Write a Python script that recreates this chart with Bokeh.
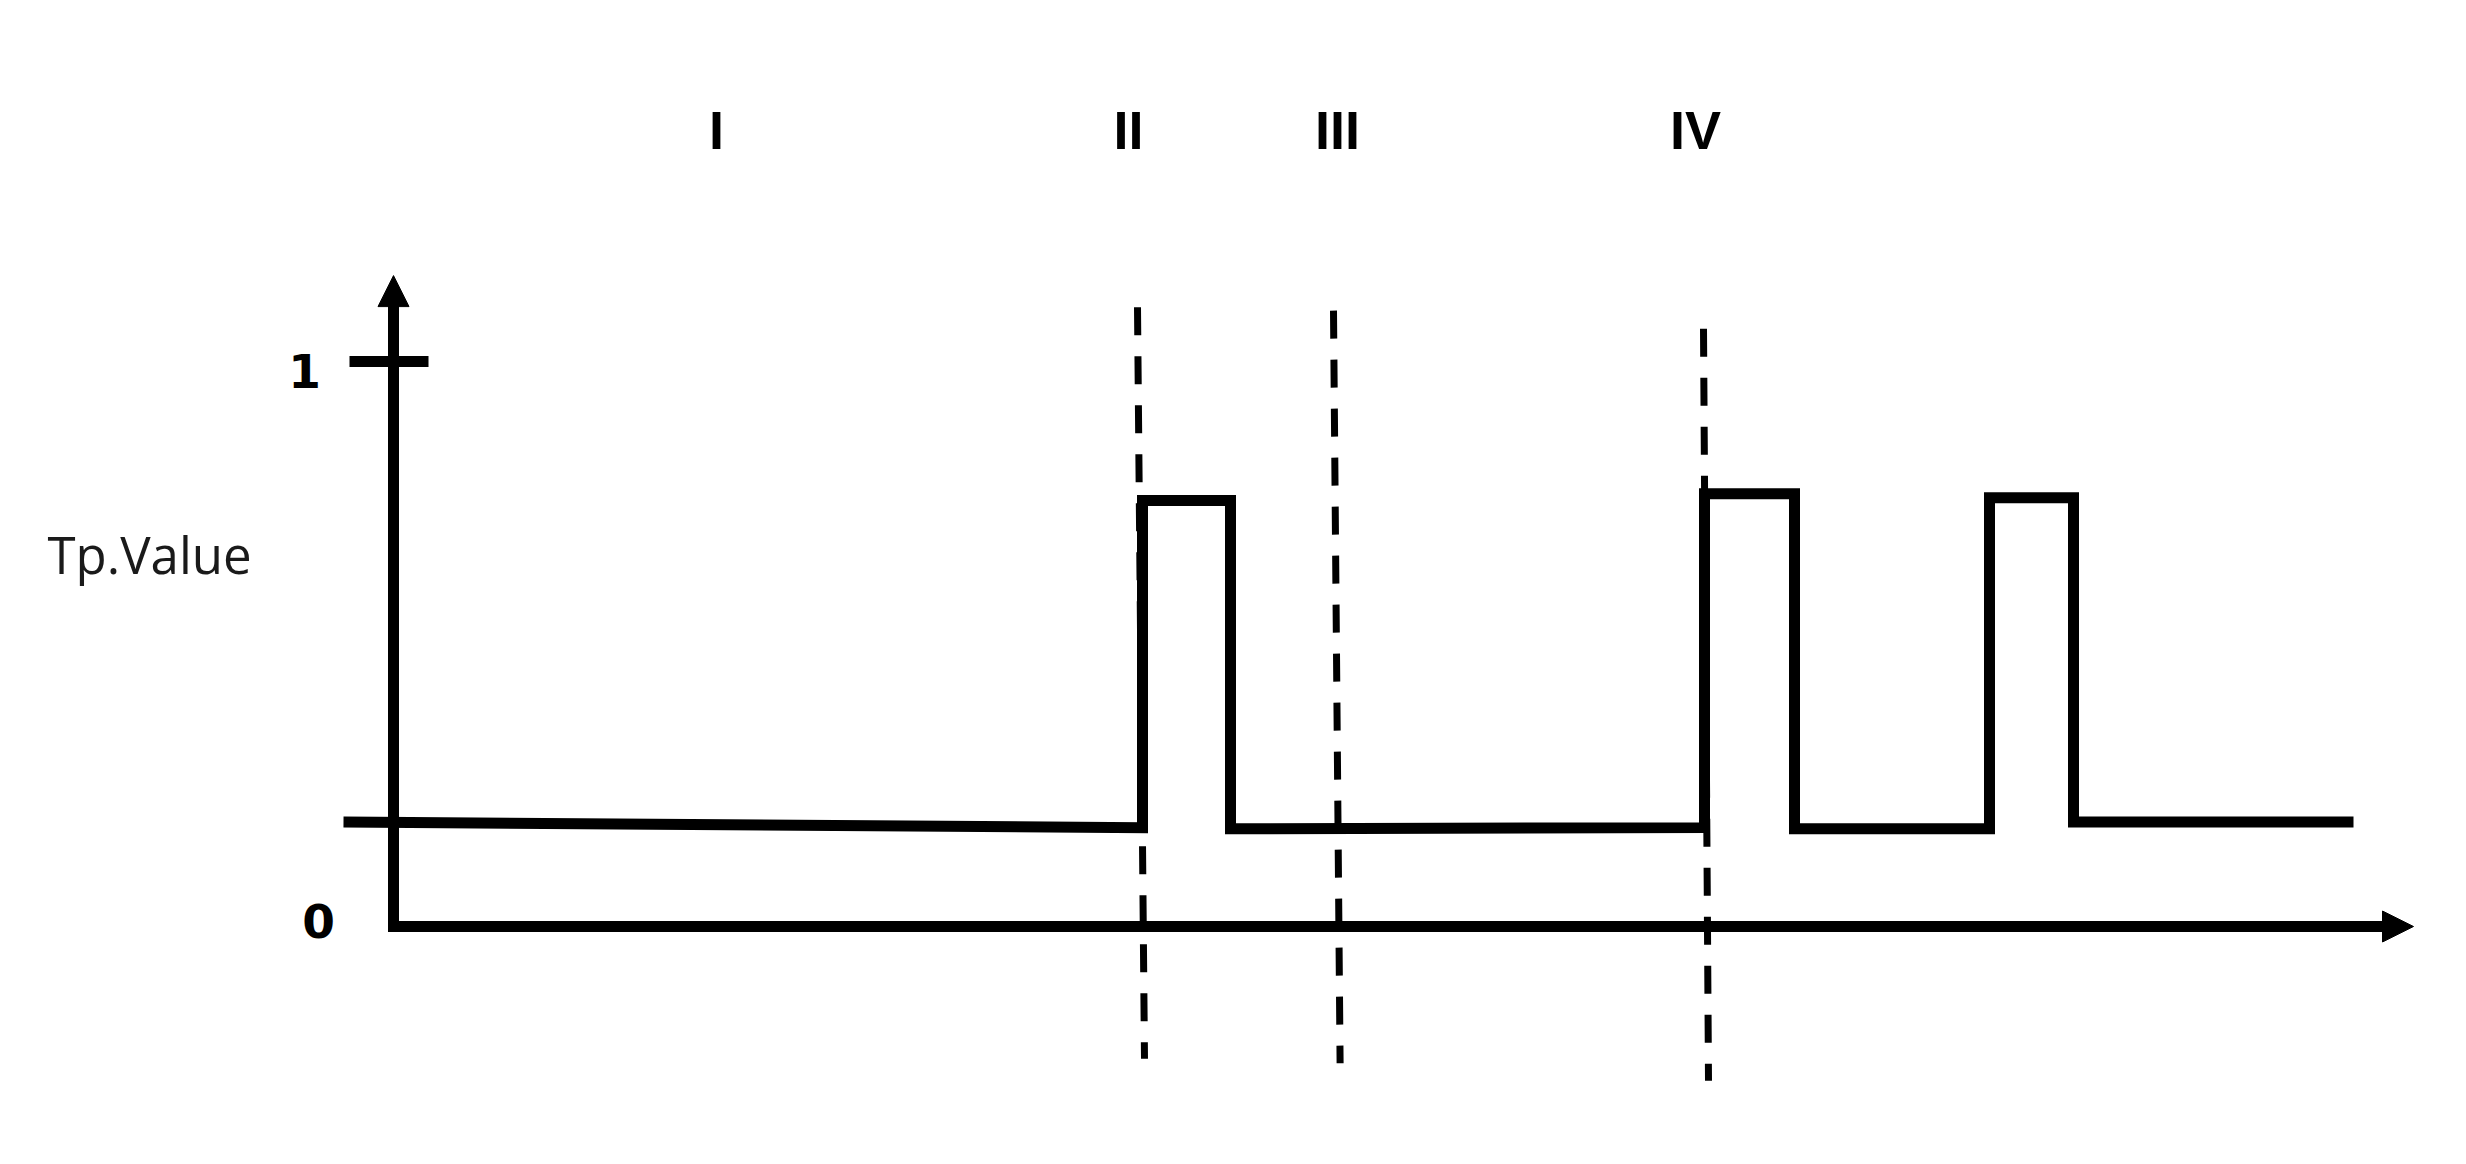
from bokeh.plotting import figure
from bokeh.models import Arrow, NormalHead, Range1d
from bokeh.core.properties import value
from bokeh.embed import file_html
from bokeh.resources import INLINE

# ---- data (time units, normalised Tp.Value) ----
signal_t = [-2.5, 37.45, 37.45, 41.85, 41.85, 65.55, 65.55, 70.05, 70.05, 79.8, 79.8, 84.0, 84.0, 98.0]
signal_v = [0.185, 0.175, 0.754, 0.754, 0.173, 0.175, 0.766, 0.766, 0.173, 0.173, 0.759, 0.759, 0.185, 0.185]

phase_labels = ["I", "II", "III", "IV"]
phase_label_t = [16.15, 36.75, 47.2, 65.1]
phase_label_v = [1.41, 1.41, 1.41, 1.41]

marker_t_top = [37.2, 47.0, 65.5]
marker_v_top = [1.096, 1.090, 1.058]
marker_t_bot = [37.55, 47.33, 65.75]
marker_v_bot = [-0.234, -0.242, -0.273]

y_tick_values = [1, 0]
y_tick_labels = ["1", "0"]
y_tick_label_t = [-4.45, -3.75]
y_tick_label_v = [0.984, 0.01]

x_axis_end = 101.0
y_axis_end = 1.152
y_label = "Tp.Value"

W, H = 2450, 1148
p = figure(width=W, height=H, output_backend="svg", toolbar_location=None,
           x_axis_type=None, y_axis_type=None,
           x_range=Range1d(-19.65, 102.85), y_range=Range1d(-0.3929, 1.6389),
           min_border=0, min_border_left=0, min_border_right=0,
           min_border_top=0, min_border_bottom=0)
p.outline_line_color = None
p.grid.visible = False
p.background_fill_color = "white"
p.border_fill_color = "white"

LW = 11

# axes
p.segment(x0=[0], y0=[0], x1=[x_axis_end - 1.6], y1=[0], line_width=LW, line_color="black", line_cap="square")
p.segment(x0=[0], y0=[0], x1=[0], y1=[y_axis_end - 0.05], line_width=LW, line_color="black", line_cap="square")
head_style = dict(size=31, fill_color="black", line_color="black", line_width=1)
p.add_layout(Arrow(end=NormalHead(**head_style), x_start=x_axis_end - 2, y_start=0,
                   x_end=x_axis_end, y_end=0, line_alpha=0))
p.add_layout(Arrow(end=NormalHead(**head_style), x_start=0, y_start=y_axis_end - 0.1,
                   x_end=0, y_end=y_axis_end, line_alpha=0))

# tick at 1
p.segment(x0=[-2.2], y0=[y_tick_values[0]], x1=[1.75], y1=[y_tick_values[0]], line_width=LW, line_color="black")

# dashed phase markers
p.segment(x0=marker_t_top, y0=marker_v_top, x1=marker_t_bot, y1=marker_v_bot,
          line_width=7, line_color="black", line_dash="28 21")

# signal
p.line(signal_t, signal_v, line_width=LW, line_color="black", line_join="miter")

# texts
p.text(x=phase_label_t, y=phase_label_v, text=phase_labels, text_font=value("Liberation Sans"),
       text_font_style="bold", text_font_size="54px", text_align="center", text_baseline="middle",
       text_color="black")
p.text(x=y_tick_label_t, y=y_tick_label_v, text=y_tick_labels, text_font=value("DejaVu Sans"),
       text_font_style="bold", text_font_size="47px", text_align="center", text_baseline="middle",
       text_color="black")
p.text(x=[-17.3], y=[0.66], text=[y_label], text_font=value("Open Sans"),
       text_font_size="51px", text_align="left", text_baseline="middle", text_color="#1a1a1a")

open("out.html", "w").write(file_html(p, INLINE))
